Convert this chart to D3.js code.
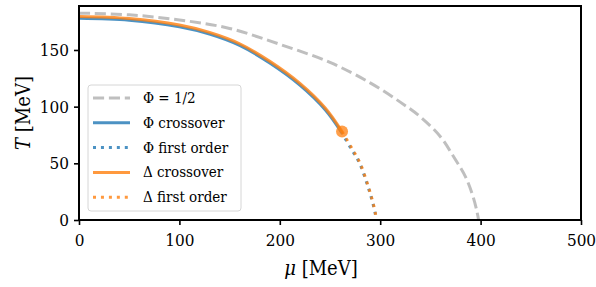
<!DOCTYPE html>
<meta charset="utf-8">
<style>
body { margin: 0; background: #fff; }
svg { display: block; }
text { font-family: "DejaVu Serif Condensed", "DejaVu Serif", serif; fill: #000; }
.tick text { font-size: 17px; }
.leg text { font-size: 15px; }
</style>
<svg width="596" height="287"></svg>
<script src="https://cdn.jsdelivr.net/npm/d3@7"></script>
<script>
// Φ = 1/2 contour
const halfMu = [0, 50, 100, 150, 200, 250, 290, 320, 340, 360, 373, 385, 392, 396, 398];
const halfT  = [182.5, 181, 176.5, 169, 155, 139, 121, 104, 91, 73.5, 56, 38, 22, 9, 0];
// Φ crossover / first order
const phiCrossMu = [0, 50, 100, 130, 160, 190, 220, 245, 261];
const phiCrossT  = [178, 176.3, 170.4, 164, 154, 138.5, 119, 97.5, 78];
const phiFirstMu = [261, 271, 279.5, 287.8, 292, 295, 295.8];
const phiFirstT  = [78, 63, 50, 29.5, 17, 6, 0];
// Δ crossover / first order
const delCrossMu = [0, 50, 100, 130, 160, 190, 220, 245, 262];
const delCrossT  = [179.6, 177.8, 172, 165.5, 155.5, 140, 120.5, 99, 78];
const delFirstMu = [262, 272, 280, 288.2, 292.3, 295.2, 296];
const delFirstT  = [78, 63, 50, 29.4, 17, 6, 0];
const critMu = 262, critT = 78;
const xTicks = [0, 100, 200, 300, 400, 500];
const yTicks = [0, 50, 100, 150];

const margin = {left: 79, right: 15, top: 6, bottom: 67};
const width = 596, height = 287;
const svg = d3.select("svg");

const x = d3.scaleLinear().domain([0, 500]).range([margin.left, width - margin.right]);
const y = d3.scaleLinear().domain([0, 188.8]).range([height - margin.bottom, margin.top]);

const blue = "#1f77b4", orange = "#ff7f0e";
const line = d3.line().x(d => x(d[0])).y(d => y(d[1])).curve(d3.curveCatmullRom);
const zip = (a, b) => a.map((v, i) => [v, b[i]]);

const series = [
  {mu: halfMu, t: halfT, color: "gray", op: 0.5, dash: "11.1,4.8"},
  {mu: phiCrossMu, t: phiCrossT, color: blue, op: 0.8, dash: null},
  {mu: phiFirstMu, t: phiFirstT, color: blue, op: 0.8, dash: "3,4.95"},
  {mu: delCrossMu, t: delCrossT, color: orange, op: 0.8, dash: null},
  {mu: delFirstMu, t: delFirstT, color: orange, op: 0.8, dash: "3,4.95"}
];

const plot = svg.append("g");
series.forEach(s => {
  plot.append("path")
    .attr("d", line(zip(s.mu, s.t)))
    .attr("fill", "none")
    .attr("stroke", s.color)
    .attr("stroke-opacity", s.op)
    .attr("stroke-width", 3)
    .attr("stroke-dasharray", s.dash);
});

plot.append("circle")
  .attr("cx", x(critMu)).attr("cy", y(critT)).attr("r", 6)
  .attr("fill", orange).attr("fill-opacity", 0.75);

// axes
const xAxis = svg.append("g")
  .attr("transform", `translate(0,${height - margin.bottom})`)
  .call(d3.axisBottom(x).tickValues(xTicks).tickSize(5).tickPadding(6));
const yAxis = svg.append("g")
  .attr("transform", `translate(${margin.left},0)`)
  .call(d3.axisLeft(y).tickValues(yTicks).tickSize(5).tickPadding(5));
[xAxis, yAxis].forEach(a => {
  a.attr("font-family", null).attr("font-size", null);
  a.select(".domain").remove();
  a.selectAll(".tick line").attr("stroke", "#000").attr("stroke-width", 1.6);
});
xAxis.selectAll(".tick text").attr("dy", "0.9em");

svg.append("rect")
  .attr("x", margin.left).attr("y", margin.top)
  .attr("width", width - margin.left - margin.right)
  .attr("height", height - margin.top - margin.bottom)
  .attr("fill", "none").attr("stroke", "#000").attr("stroke-width", 2);

// axis labels
const xl = svg.append("text")
  .attr("x", 321).attr("y", 275)
  .attr("text-anchor", "middle").attr("font-size", 20);
xl.append("tspan").attr("font-style", "italic").text("μ");
xl.append("tspan").text(" [MeV]");

const yl = svg.append("text")
  .attr("transform", `translate(30,${(margin.top + height - margin.bottom) / 2}) rotate(-90)`)
  .attr("text-anchor", "middle").attr("font-size", 20);
yl.append("tspan").attr("font-style", "italic").text("T");
yl.append("tspan").text(" [MeV]");

// legend
const labels = ["Φ = 1/2", "Φ crossover", "Φ first order", "Δ crossover", "Δ first order"];
const leg = svg.append("g").attr("class", "leg");
leg.append("rect")
  .attr("x", 88).attr("y", 85).attr("width", 153).attr("height", 126).attr("rx", 3)
  .attr("fill", "#fff").attr("fill-opacity", 0.8)
  .attr("stroke", "#d6d6d6").attr("stroke-width", 1);
labels.forEach((lab, i) => {
  const s = series[i];
  const yy = 98 + i * 24.8;
  leg.append("line")
    .attr("x1", 93).attr("x2", 130).attr("y1", yy).attr("y2", yy)
    .attr("stroke", s.color).attr("stroke-opacity", s.op)
    .attr("stroke-width", 3).attr("stroke-dasharray", s.dash);
  leg.append("text").attr("x", 143).attr("y", yy).attr("dy", "0.33em").text(lab);
});
</script>
